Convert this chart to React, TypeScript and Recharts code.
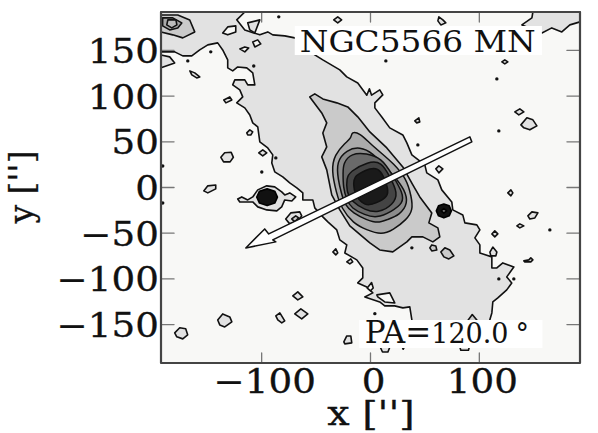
import { Label, Scatter, ScatterChart, XAxis, YAxis } from "recharts";

type Pt = [number, number];

const serif = "'DejaVu Serif', serif";
const xTicks = [-100, 0, 100];
const yTicks = [-150, -100, -50, 0, 50, 100, 150];
const limitX = 192.5;
const limitY = 192;

// main contours, outer to inner
const bandOutline: Pt[] = [
  [-192.5, 148.4], [-179.9, 148.4], [-172.5, 144], [-164.2, 144], [-156.9, 150.5], [-149.5, 156], [-140.4, 158.2],
  [-135.8, 150.5], [-131.2, 139.6], [-131.2, 130.9], [-126.6, 127.6], [-122, 131.9], [-113.7, 130.9], [-108.2, 125.4],
  [-106.3, 112.3], [-112.8, 112.3], [-115.5, 117.7], [-124.7, 117.7], [-126.6, 112.3], [-120.1, 106.8], [-117.4, 99.1],
  [-122.9, 92.6], [-115.5, 87.1], [-110.9, 79.4], [-108.2, 70.7], [-103.6, 66.3], [-101.7, 49.9], [-94.4, 43.3],
  [-89.8, 35.7], [-90.7, 26.9], [-88, 17.1], [-80.6, 11.6], [-74.2, 5], [-67.7, -0.4], [-62.2, -5.9], [-62.2, -13.6],
  [-53, -13.6], [-51.2, -22.3], [-43.8, -32.2], [-39.2, -37.6], [-31, -46.4], [-28.2, -57.3], [-21.8, -62.8],
  [-23.6, -71.6], [-12.6, -79.2], [-7.1, -88], [-7.1, -98.9], [-11.7, -104.4], [-3.4, -108.8], [2.1, -115.3],
  [-5.2, -119.7], [8.5, -125.2], [13.1, -129.5], [22.3, -129.5], [29.7, -131.7], [36.1, -130.6], [38, -144.9],
  [38, -160], [109.6, -160], [109.6, -144.9], [111.5, -137.2], [112.4, -125.2], [117, -120.8], [125.2, -112],
  [129.8, -104.4], [125.2, -97.8], [131.7, -86.9], [121.6, -82.5], [116.1, -88], [111.5, -88], [111.5, -75.9],
  [100.5, -71.6], [100.5, -62.8], [95.9, -55.1], [100.5, -46.4], [97.7, -40.9], [86.7, -38.7], [84.8, -30],
  [75.6, -24.5], [74.7, -15.8], [65.5, -2.6], [61.9, 8.3], [51.7, 16], [49.9, 24.7], [38, 35.7], [33.4, 48.8],
  [29.7, 57.5], [17.7, 65.2], [10.4, 77.2], [4, 87.1], [4, 92.6], [11.3, 101.3], [8.5, 106.8], [1, 101],
  [-1, 108], [-3.4, 101], [-11.7, 114.4], [-21.8, 121], [-28.2, 128.7], [-43.8, 139.6], [-51.2, 145.1],
  [-69.6, 163.7], [-78.8, 165.9], [-89.8, 167], [-94.4, 170.2], [-101.7, 167], [-107.3, 169.1], [-115.5, 172.4],
  [-122.9, 183.4], [-115.5, 192], [-192.5, 192],
];
const cornerTopRight: Pt[] = [
  [149.2, 192], [148.3, 185.6], [139.1, 177.9], [157.5, 169.1], [166.6, 174.6], [175.8, 170.2], [183.2, 177.9],
  [192.5, 181.2], [192.5, 192],
];
const level2: Pt[] = [
  [-55.8, 99.1], [-51.2, 102.4], [-43.8, 96.9], [-31, 92.6], [-20.9, 88.2], [-11.7, 77.3], [-0.6, 60.8], [15, 43.3],
  [29.7, 22.5], [38.9, 2.8], [45.3, -10.3], [56.3, -27.8], [53.6, -38.7], [61.9, -44.2], [63.7, -54], [57.3, -59.5],
  [48.1, -54], [38, -54], [33.4, -59.5], [20.5, -70.4], [8.5, -68.3], [-0.6, -60.6], [-7.1, -54], [-19, -42],
  [-28.2, -24.5], [-35.6, -8.1], [-40.2, 19.3], [-44.8, 33.5], [-40.2, 44.4], [-43.8, 59.7], [-40.2, 70.7], [-44.8, 81.6],
];
const level3: Pt[] = [
  [-17.5, 61.2], [-9.8, 59.4], [-0.6, 48.5], [10.1, 37.5], [20.8, 26.6], [33, 10.1], [37.6, -9.9], [39.1, -24.5],
  [33, -35.4], [20.8, -46.4], [10.1, -51.9], [-3.7, -46.4], [-16, -39.1], [-26.7, -22.7], [-31.3, -6.3], [-36, 19.3],
  [-33, 35.7], [-23.6, 48.5], [-17.5, 53.9],
];
const level4: Pt[] = [
  [-31.3, 28.4], [-22, 41.1], [-9.8, 44.8], [2.4, 37.5], [13.1, 22.9], [22.3, 11.9], [31.5, -2.6], [34.6, -17.2],
  [27, -30], [14.7, -35.4], [7, -39.1], [-3.7, -35.4], [-16, -28.2], [-23.6, -19], [-26.7, -6.3], [-29.8, 8.3],
];
const level5: Pt[] = [
  [-25.2, 15.6], [-25.2, 26.6], [-17.5, 37.5], [-3.7, 37.5], [10.1, 32], [19.3, 15.6], [30, -6.3], [30, -17.2],
  [19.3, -26.4], [5.5, -33.6], [-5.2, -30], [-17.5, -22.7], [-22, -13.6], [-25.2, 1],
];
const level6: Pt[] = [
  [-22, 10.1], [-19, 17.4], [-2.2, 28.4], [10.1, 28.4], [17.7, 11.9], [25.4, -6.3], [20.8, -19], [7, -28.2],
  [-5.2, -24.5], [-17.5, -15.4], [-22, -4.5],
];
const level7: Pt[] = [
  [-14.4, 11.9], [-9.8, 15.6], [-0.6, 21.1], [7, 21.1], [11.6, 13.8], [16.2, -0.8], [16.2, -9.9], [5.5, -17.2],
  [-5.2, -20.9], [-14.4, -8.1], [-16, 4.7],
];

// compact source, top left corner
const cornerL2: Pt[] = [[-192.5, 188.7], [-177.1, 188.7], [-166.1, 183.3], [-161.5, 170.2], [-172.5, 163.7], [-181.7, 167], [-192.5, 170.2]];
const cornerL3: Pt[] = [[-191, 185.6], [-181.7, 185.6], [-173.4, 180.1], [-177.1, 174.6], [-184.5, 172.4], [-191, 176.8]];
const cornerL4: Pt[] = [[-186.2, 183.4], [-178.8, 183.4], [-177.9, 177.9], [-182.6, 174.6], [-187.2, 177.9]];

// companion west of the disc
const westEnvelope: Pt[] = [
  [-122, -12.5], [-118.3, -10.3], [-112.8, -13.6], [-108.2, -10.3], [-103.6, -2.6], [-95.3, 1.8], [-88, 0.7], [-81.6, -4.8],
  [-78.8, -8.1], [-74.2, -5.9], [-68.7, -10.3], [-72.3, -14.7], [-78.8, -13.6], [-81.6, -21.2], [-86.1, -25.6], [-95.3, -24.5],
  [-103.6, -21.2], [-108.2, -15.8], [-113.7, -15.8], [-120.1, -15.8],
];
const westCore: Pt[] = [[-104.5, -10.6], [-102, -4], [-95, -1.5], [-88, -4], [-85.5, -10.6], [-88, -17], [-95, -19.8], [-102, -17]];
const eastCore: Pt[] = [[60.5, -25.6], [62.5, -20], [67.4, -18], [72.3, -20], [74.3, -25.6], [72.3, -31], [67.4, -33.2], [62.5, -31]];
const eastInner: Pt[] = [[65, -25.6], [67.4, -23], [70, -25.6], [67.4, -28]];
const ringInner: Pt[] = [[-72.4, -34.4], [-68.7, -31.1], [-66, -33.3], [-69.6, -37.6]];

// lighter holes inside the band
const holes: Pt[][] = [
  [[-135.8, 169.1], [-131.2, 175.7], [-123.8, 176.8], [-123.8, 170.2], [-131.2, 167]],
  [[-120.1, 151.6], [-115.5, 153.8], [-111.9, 152.7], [-115.5, 148.4]],
  [[-108.2, 159.3], [-103.6, 161.5], [-100.8, 157.1], [-106.3, 153.8]],
  [[5.8, -117.5], [17.7, -115.3], [22.3, -126.3], [13.1, -125.2], [6.7, -119.7]],
  [[1, -104], [2.5, -110], [0, -113], [-3, -110]],
];

// small level 1 islands
const islands: Pt[][] = [
  [[-112.8, 180.1], [-101.7, 183.4], [-106.3, 169.1], [-110.9, 172.4]],
  [[-192.5, 145], [-184.5, 142.9], [-179.9, 136.3], [-192.5, 130.9]],
  [[-137.5, 33], [-134, 38], [-128, 38.5], [-126, 33], [-129, 28], [-135, 28]],
  [[-166, 127.6], [-161.5, 125.4], [-156.9, 121], [-159.7, 119.9], [-164.2, 123.2]],
  [[-134.8, 95.8], [-129.3, 99.1], [-127.4, 95.8], [-132.9, 92.6]],
  [[-113.7, 59.7], [-110.9, 63], [-108.2, 60.8], [-110, 57.5], [-112.8, 57.5]],
  [[-102.7, 37.9], [-99, 41.1], [-95.3, 37.9], [-99, 34.6]],
  [[-33.8, 183.4], [-30.1, 186.7], [-26.5, 183.4], [-30.1, 180.1]],
  [[62.8, 186.7], [66.5, 183.4], [69.2, 180.1], [64.6, 177.9], [61.9, 182.3]],
  [[120.7, 137.4], [123.4, 139.6], [126.2, 137.4], [123.4, 135.2]],
  [[40.7, 72.9], [44.4, 76.2], [45.3, 71.8], [42.5, 70.7]],
  [[132.6, 82.7], [137.2, 86], [140.9, 82.7], [136.3, 79.4]],
  [[138.2, 68.5], [143.7, 76.2], [149.2, 74], [152.9, 67.4], [146.4, 63.1], [140.9, 65.3]],
  [[60, 20.4], [62.8, 23.6], [66.5, 20.4], [62.8, 16]],
  [[126.2, -5.9], [129, -2.6], [130.8, -5.9], [129, -9.2]],
  [[144.6, -31.1], [148.3, -26.7], [153.8, -27.8], [151, -33.3], [146.4, -34.4]],
  [[134.5, -42], [137.2, -39.8], [140.9, -42], [137.2, -44.2]],
  [[111.5, -50.8], [114.2, -47.5], [117, -50.8], [114.2, -54]],
  [[109.7, -70.7], [112.4, -65.2], [116.1, -70.5], [115.2, -74.8], [110.6, -74.8]],
  [[140.9, -80.3], [145.5, -79.2], [147.3, -77], [149.2, -79.2], [147.3, -81.4], [141.8, -81.4]],
  [[-153.2, -3.7], [-149.5, 1.8], [-142.2, 2.8], [-142.2, -1.5], [-149.5, -5.9]],
  [[-77.9, -34.4], [-73.3, -27.8], [-65, -26.7], [-63.2, -31.1], [-67.7, -37.6], [-74.2, -39.8]],
  [[-34.6, -70.5], [-31.9, -67.2], [-30.1, -71.6], [-31.9, -73.7]],
  [[-21.8, -81.4], [-18.1, -78.1], [-16.3, -81.4], [-19, -83.6]],
  [[-71.4, -118.6], [-66.8, -114.2], [-62.2, -119.7], [-66.8, -123]],
  [[-69.6, -138.3], [-64, -132.8], [-57.6, -138.3], [-63.2, -143.8]],
  [[-87, -140.5], [-83.3, -137.2], [-78.8, -146], [-81.5, -148.1], [-85.2, -144.9]],
  [[-140.4, -144.9], [-135.8, -138.3], [-129.3, -141.6], [-127.4, -147], [-133.9, -152.5], [-138.5, -150.3]],
  [[-179.9, -159], [-175.3, -153.5], [-169.8, -154.6], [-168, -161.2], [-172.5, -165.6], [-178, -163.4]],
  [[-24.5, -168.9], [-21.8, -162.4], [-18.1, -162.4], [-17.2, -170], [-23.6, -171.1]],
  [[5.4, -165], [11, -180], [16, -180], [21, -165]],
  [[26, -165], [30, -177], [35, -165]],
  [[79.6, -165], [83, -178], [90, -178], [93, -165]],
];

// islands one level up, sitting on the band
const brightSpots: Pt[][] = [
  [[54.5, -66], [56.3, -62.8], [60, -63.9], [60.9, -68.3], [56.3, -69.4]],
  [[64.6, -70.5], [68.3, -66], [72.9, -68.3], [76.6, -74.8], [72, -78.1], [67.4, -75.9]],
  [[88.5, -147], [93.5, -139], [99, -147]],
];

const specks: Pt[] = [
  [-146.8, 148.4], [-167.9, 138.5], [-107.3, 133], [-87, 32.4], [-99.9, 17], [-190.9, 23.6], [-84.3, 186.7], [-190.9, -17],
  [14.1, 138.5], [43.5, 46.6], [117.9, 61.9], [116.1, 118.8], [38, -66], [164.8, -46.4], [117.9, -100], [131.7, -100], [4, -138],
];

const arrow: Pt[] = [
  [-114.6, -66.1], [-97.2, -45.3], [-93.5, -50.8], [91.3, 55.4], [93.1, 49.9], [-89.8, -57.3], [-87, -59.5],
];
const titleBox: Pt[] = [[-69.6, 176.8], [157.5, 176.8], [157.5, 145], [-69.6, 145]];
const paBox: Pt[] = [[-10.4, -145], [158, -145], [158, -175.7], [-10.4, -175.7]];
const frame: Pt[] = [[-limitX, -limitY], [limitX, -limitY], [limitX, limitY], [-limitX, limitY]];
const titleAnchor = [{ x: -65, y: 148.4 }];
const paAnchor = [{ x: -5.2, y: -170.3 }];

const toRows = (pts: Pt[]) => pts.map(([x, y]) => ({ x, y }));
const NoDot = () => <g />;

const poly = (key: string, pts: Pt[], fill: string, stroke = "#111", width = 1.6, joint: any = "linearClosed") => (
  <Scatter
    key={key}
    data={toRows(pts)}
    dataKey="y"
    isAnimationActive={false}
    shape={NoDot}
    line={{ fill, stroke, strokeWidth: width, strokeLinejoin: "round" }}
    lineType="joint"
    lineJointType={joint}
  />
);

const stretchedText = (x: number, y: number, text: string, anchor: "start" | "middle" | "end", sx: number) => (
  <text
    transform={`translate(${x},${y}) scale(${sx},1)`}
    textAnchor={anchor}
    fontFamily={serif}
    fontSize={33}
    fill="#111"
    stroke="#111"
    strokeWidth={0.3}
  >
    {text}
  </text>
);

const fmt = (v: number) => String(v).replace("-", "\u2212");

export default function App() {
  return (
    <div style={{ position: "absolute", left: 0, top: 0, width: 598, height: 433 }}>
      <ScatterChart width={598} height={433} margin={{ top: 12, right: 18, bottom: 0, left: 0 }}>
        <XAxis
          type="number"
          dataKey="x"
          domain={[-limitX, limitX]}
          ticks={xTicks}
          interval={0}
          height={70}
          axisLine={false}
          tickLine={false}
          tick={(p: any) => stretchedText(p.x + 3, 393, fmt(p.payload.value), "middle", 1.13)}
        >
          <Label content={() => stretchedText(371, 425, "x ['']", "middle", 1.2)} />
        </XAxis>
        <YAxis
          type="number"
          dataKey="y"
          domain={[-limitY, limitY]}
          ticks={yTicks}
          interval={0}
          width={161}
          axisLine={false}
          tickLine={false}
          tick={(p: any) => stretchedText(159, p.y + 12.5, fmt(p.payload.value), "end", 1.13)}
        >
          <Label
            content={() => (
              <text transform="translate(33,187) rotate(-90)" textAnchor="middle" fontFamily={serif} fontSize={33} fill="#111" stroke="#111" strokeWidth={0.3}>
                {"y ['']"}
              </text>
            )}
          />
        </YAxis>

        {poly("bg", frame, "#f8f8f6", "none", 0)}
        {poly("band", bandOutline, "#e2e2e2")}
        {poly("cornerTR", cornerTopRight, "#e2e2e2")}
        {holes.map((h, i) => poly(`hole${i}`, h, "#f8f8f6"))}
        {islands.map((h, i) => poly(`isl${i}`, h, "#e2e2e2"))}
        {brightSpots.map((h, i) => poly(`spot${i}`, h, "#cacaca"))}
        {poly("cL2", cornerL2, "#cacaca")}
        {poly("cL3", cornerL3, "#a8a8a8")}
        {poly("cL4", cornerL4, "#bdbdbd")}
        {poly("west", westEnvelope, "#e2e2e2")}
        {poly("westCore", westCore, "#111111", "#000")}
        {poly("eastCore", eastCore, "#111111", "#000")}
        {poly("eastInner", eastInner, "#777777", "#000")}
        {poly("ringInner", ringInner, "#cacaca")}
        {poly("l2", level2, "#cacaca")}
        {poly("l3", level3, "#ababab", "#111", 1.5, "basisClosed")}
        {poly("l4", level4, "#8c8c8c", "#111", 1.5, "basisClosed")}
        {poly("l5", level5, "#6a6a6a", "#111", 1.5, "basisClosed")}
        {poly("l6", level6, "#444444", "#111", 1.5, "basisClosed")}
        {poly("l7", level7, "#1a1a1a", "#111", 1.5, "basisClosed")}
        <Scatter
          data={toRows(specks)}
          isAnimationActive={false}
          shape={(p: any) => <circle cx={p.cx} cy={p.cy} r={1.7} fill="#111" />}
        />
        {poly("titleBox", titleBox, "#ffffff", "none", 0)}
        {poly("paBox", paBox, "#ffffff", "none", 0)}
        {poly("arrow", arrow, "#ffffff", "#111", 1.5)}
        <Scatter
          data={titleAnchor}
          isAnimationActive={false}
          shape={(p: any) => (
            <text x={p.cx} y={p.cy} fontFamily={serif} fontSize={29} fill="#111" textLength={236} lengthAdjust="spacingAndGlyphs">
              NGC5566 MN
            </text>
          )}
        />
        <Scatter
          data={paAnchor}
          isAnimationActive={false}
          shape={(p: any) => (
            <text x={p.cx} y={p.cy} fontFamily={serif} fill="#111">
              <tspan fontSize={31}>PA=</tspan>
              <tspan fontSize={27}>120.0</tspan>
              <tspan fontSize={27} dx={7}>°</tspan>
            </text>
          )}
        />
        {xTicks.flatMap((t) => [
          poly(`tb${t}`, [[t, -limitY], [t, -limitY + 11]], "none", "#777", 1.3),
          poly(`tt${t}`, [[t, limitY], [t, limitY - 11]], "none", "#777", 1.3),
        ])}
        {yTicks.flatMap((t) => [
          poly(`tl${t}`, [[-limitX, t], [-limitX + 12, t]], "none", "#777", 1.3),
          poly(`tr${t}`, [[limitX, t], [limitX - 12, t]], "none", "#777", 1.3),
        ])}
        {poly("frame", frame, "none", "#444", 2.2)}
      </ScatterChart>
    </div>
  );
}
